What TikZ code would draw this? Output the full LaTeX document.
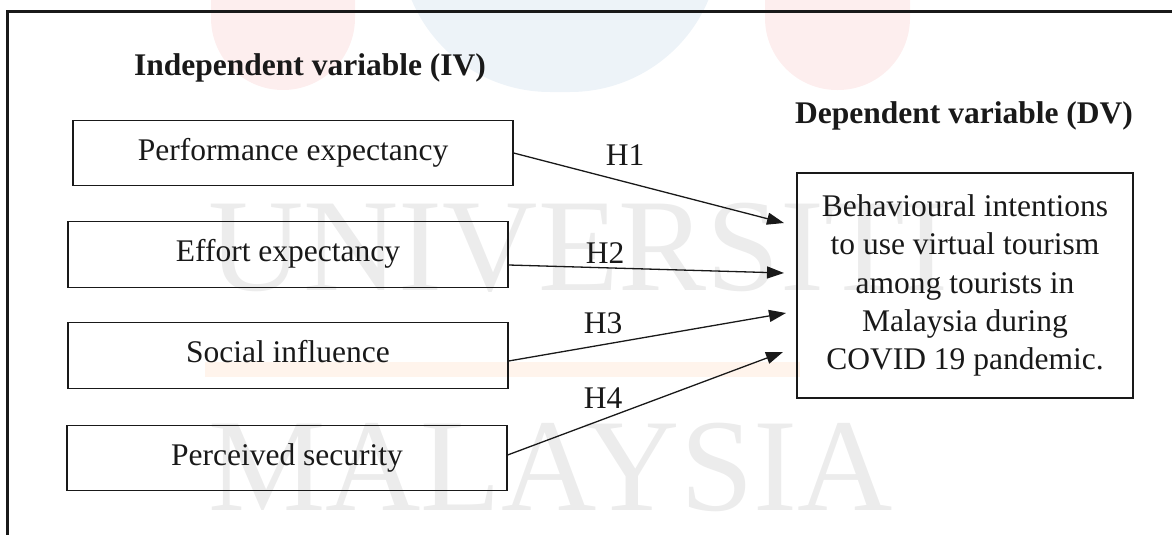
\documentclass[tikz,border=0pt]{standalone}
\usepackage{fontspec}
\setmainfont{Liberation Serif}
\usetikzlibrary{arrows.meta,calc}
\definecolor{wmred}{RGB}{253,238,238}
\definecolor{wmblue}{RGB}{237,243,248}
\definecolor{wmorange}{RGB}{255,244,236}
\definecolor{wmgray}{RGB}{236,236,236}
\definecolor{ink}{RGB}{25,25,25}
\begin{document}
\begin{tikzpicture}[x=1pt,y=-1pt,
  txt/.style={font=\fontsize{31.5}{38.3}\selectfont, text=ink},
  head/.style={font=\fontsize{31.5}{38.3}\selectfont\bfseries, text=ink},
  ivbox/.style={txt, draw=ink, line width=1.2pt, minimum width=440pt, minimum height=65.5pt,
    inner sep=0pt, text height=21pt, text depth=7pt},
  dvbox/.style={txt, draw=ink, line width=1.2pt, minimum width=336pt, minimum height=225pt,
    inner sep=0pt, align=center},
  hyp/.style={draw=ink, line width=1.3pt, -{Triangle[length=17pt,width=12pt]}},
  hlab/.style={txt, inner sep=0pt, anchor=base},
  wm/.style={font=\fontsize{132}{132}\selectfont, text=wmgray, anchor=base west, inner sep=0pt}
]
\clip (0,0) rectangle (1172,535);
% watermark
\fill[wmred, rounded corners=72pt] (211,-150) rectangle (355,90);
\fill[wmblue, rounded corners=150pt] (400,-250) rectangle (720,92);
\fill[wmred, rounded corners=72pt] (765,-150) rectangle (910,90);
\fill[wmorange] (205,362) rectangle (800,377);
\node[wm] (wmu) at (208,290) {UNIVERSITI};
\node[wm] (wmm) at (208,510) {MALAYSIA};
% outer frame
\draw[ink, line width=3pt] (7,600) -- (7,11.5) -- (1250,11.5);
% headings
\node[head, anchor=base] (iv) at (310,75) {Independent variable (IV)};
\node[head, anchor=base] (dv) at (964,123) {Dependent variable (DV)};
% boxes
\node[ivbox] (b1) at (293,153) {Performance expectancy};
\node[ivbox] (b2) at (288,254.5) {Effort expectancy};
\node[ivbox] (b3) at (288,355.5) {Social influence};
\node[ivbox] (b4) at (287,458) {Perceived security};
\node[dvbox] (bi) at (965,285.5) {Behavioural intentions\\to use virtual tourism\\among tourists in\\Malaysia during\\COVID 19 pandemic.};
% arrow targets
\coordinate (t1) at (784,223);
\coordinate (t2) at (784,273);
\coordinate (t3) at (786,313);
\coordinate (t4) at (783,352);
\draw[hyp] (b1.east) -- (t1);
\draw[hyp] ([yshift=-10.5pt]b2.east) -- (t2);
\draw[hyp] ([yshift=-5.5pt]b3.east) -- (t3);
\draw[hyp] ([yshift=3pt]b4.east) -- (t4);
% labels
\node[hlab] (h1) at (625,165) {H1};
\node[hlab] (h2) at (605,263) {H2};
\node[hlab] (h3) at (603,333) {H3};
\node[hlab] (h4) at (603,408) {H4};
\end{tikzpicture}
\end{document}
